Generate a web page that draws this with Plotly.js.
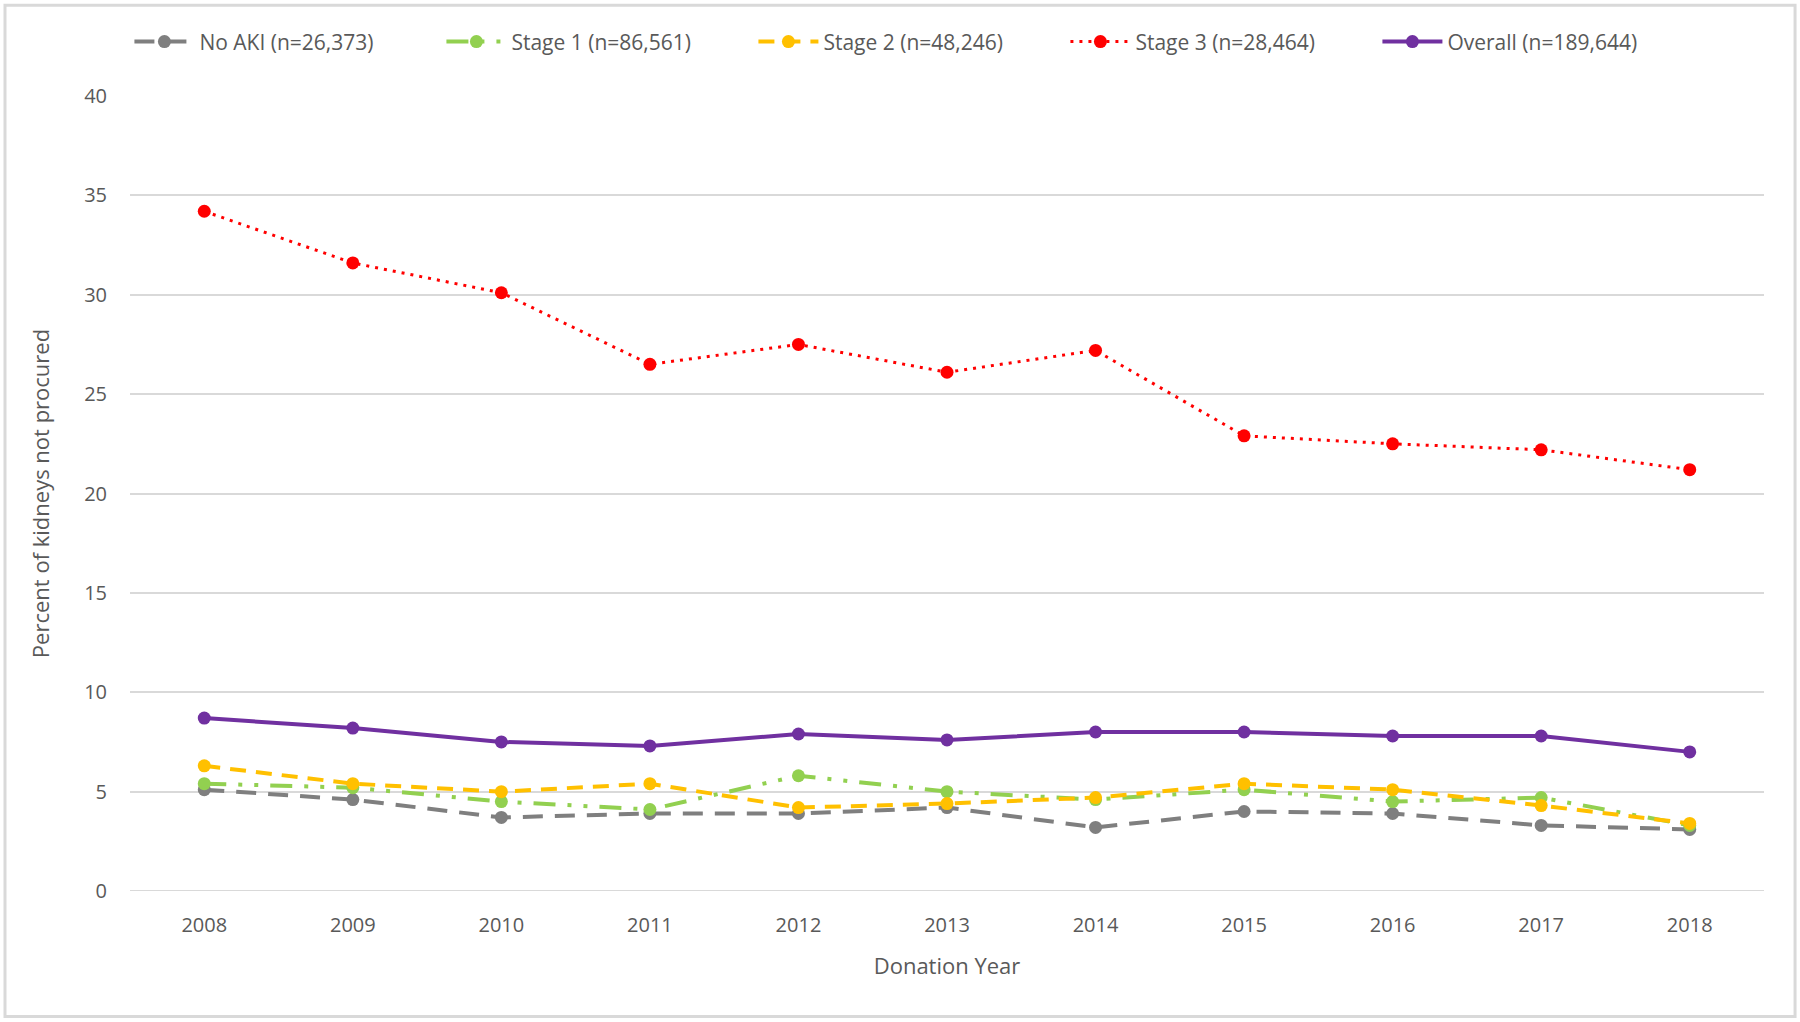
<!DOCTYPE html>
<html>
<head>
<meta charset="utf-8">
<script src="https://cdn.plot.ly/plotly-3.0.1.min.js"></script>
<style>html,body{margin:0;padding:0;background:#fff;}#chart{width:1800px;height:1022px;}</style>
</head>
<body>
<div id="chart"></div>
<script>
const years = [2008, 2009, 2010, 2011, 2012, 2013, 2014, 2015, 2016, 2017, 2018];
const noAKI  = [5.1, 4.6, 3.7, 3.9, 3.9, 4.2, 3.2, 4.0, 3.9, 3.3, 3.1];
const stage1 = [5.4, 5.2, 4.5, 4.1, 5.8, 5.0, 4.6, 5.1, 4.5, 4.7, 3.3];
const stage2 = [6.3, 5.4, 5.0, 5.4, 4.2, 4.4, 4.7, 5.4, 5.1, 4.3, 3.4];
const stage3 = [34.2, 31.6, 30.1, 26.5, 27.5, 26.1, 27.2, 22.9, 22.5, 22.2, 21.2];
const overall = [8.7, 8.2, 7.5, 7.3, 7.9, 7.6, 8.0, 8.0, 7.8, 7.8, 7.0];
const seriesNames = ["No AKI (n=26,373)", "Stage 1 (n=86,561)", "Stage 2 (n=48,246)", "Stage 3 (n=28,464)", "Overall (n=189,644)"];
const yTicks = [0, 5, 10, 15, 20, 25, 30, 35, 40];

const FONT = "Open Sans, sans-serif";
function tr(y, name, color, dash, w) {
  return {
    x: years, y: y, name: name, type: "scatter", mode: "lines+markers",
    line: {color: color, width: w, dash: dash},
    marker: {color: color, size: 13}
  };
}
const data = [
  tr(noAKI, seriesNames[0], "#7f7f7f", "20px,12px", 4),
  tr(stage1, seriesNames[1], "#92d050", "22px,12px,4px,12px,4px,12px", 4),
  tr(stage2, seriesNames[2], "#ffc000", "16px,10px", 4),
  tr(stage3, seriesNames[3], "#ff0000", "3px,6px", 3),
  tr(overall, seriesNames[4], "#7030a0", "solid", 4)
];
const layout = {
  width: 1800, height: 1022,
  margin: {l: 130, r: 36, t: 96, b: 131},
  paper_bgcolor: "#fff", plot_bgcolor: "#fff",
  font: {family: FONT, color: "#595959", size: 20},
  showlegend: true,
  legend: {orientation: "h", x: 0.477, xanchor: "center", y: 1.068, yanchor: "middle",
           font: {size: 21, color: "#595959"}, itemwidth: 60, entrywidth: 237, traceorder: "normal"},
  xaxis: {
    range: [2007.5, 2018.5], tickvals: years, ticktext: years.map(String),
    showgrid: false, zeroline: false, showline: false, ticks: "", ticklabelstandoff: 20,
    tickfont: {size: 20, color: "#595959"},
    title: {text: "Donation Year", font: {size: 22, color: "#595959"}, standoff: 21}
  },
  yaxis: {
    range: [0, 40], tickvals: yTicks, ticktext: yTicks.map(String),
    showgrid: true, gridcolor: "#d9d9d9", gridwidth: 2,
    zeroline: false, showline: false, ticks: "", ticklabelstandoff: 22,
    tickfont: {size: 20, color: "#595959"},
    title: {text: "Percent of kidneys not procured", font: {size: 22, color: "#595959"}, standoff: 28}
  },
  shapes: [
    {type: "line", xref: "paper", yref: "y", x0: 0, x1: 1, y0: 0, y1: 0, line: {color: "#d9d9d9", width: 2}, layer: "below"},
    {type: "rect", xref: "paper", yref: "paper", x0: -0.0765, x1: 1.019, y0: -0.158, y1: 1.114,
     line: {color: "#d9d9d9", width: 3}, fillcolor: "rgba(0,0,0,0)"}
  ]
};
Plotly.newPlot("chart", data, layout, {displayModeBar: false, staticPlot: true});
</script>
</body>
</html>
